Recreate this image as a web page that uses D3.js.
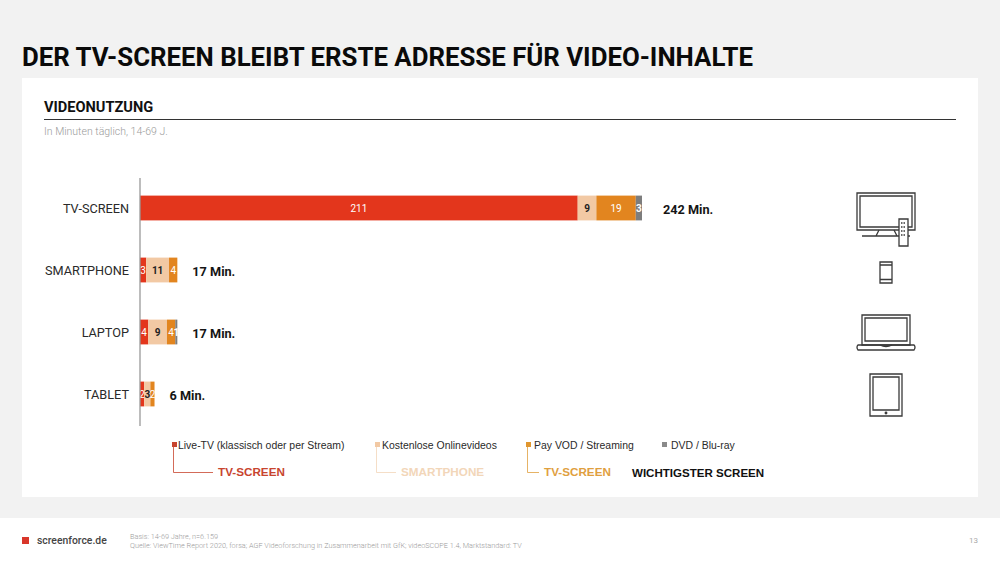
<!DOCTYPE html>
<html lang="de">
<head>
<meta charset="utf-8">
<title>Videonutzung</title>
<script src="https://cdn.jsdelivr.net/npm/d3@7"></script>
<style>
  html, body { margin: 0; padding: 0; background: #f2f2f2; }
  svg { display: block; font-family: Roboto, sans-serif; }
  .icon { fill: none; stroke: #3a3a3a; stroke-width: 1.3; }
  .legend { font-family: "Liberation Sans", Arial, sans-serif; }
</style>
</head>
<body>
<div id="chart"></div>
<script>
const devices = ['TV-SCREEN', 'SMARTPHONE', 'LAPTOP', 'TABLET'];
const seriesNames = ['Live-TV (klassisch oder per Stream)', 'Kostenlose Onlinevideos', 'Pay VOD / Streaming', 'DVD / Blu-ray'];
const seriesColors = ['#e3361c', '#f2c9a4', '#e2851f', '#7d7d7d'];
const labelColors = ['#ffffff', '#222222', '#ffffff', '#ffffff'];
const liveTv = [211, 3, 4, 2];
const freeVideo = [9, 11, 9, 3];
const payVod = [19, 4, 4, 2];
const dvd = [3, 0, 1, 0];
const totals = ['242 Min.', '17 Min.', '17 Min.', '6 Min.'];

const svg = d3.select('#chart').append('svg')
  .attr('width', 1000)
  .attr('height', 563)
  .attr('viewBox', [0, 0, 1000, 563]);

// Hintergrund
svg.append('rect').attr('width', 1000).attr('height', 563).attr('fill', '#f2f2f2');
svg.append('rect').attr('x', 22).attr('y', 78).attr('width', 956).attr('height', 419).attr('fill', '#fff');
svg.append('rect').attr('y', 518).attr('width', 1000).attr('height', 45).attr('fill', '#fff');

// Kopf
svg.append('text').attr('x', 22).attr('y', 66)
  .attr('font-size', 25.8).attr('font-weight', 700).attr('fill', '#0a0a0a')
  .text('DER TV-SCREEN BLEIBT ERSTE ADRESSE FÜR VIDEO-INHALTE');
svg.append('text').attr('x', 44).attr('y', 112)
  .attr('font-size', 14.6).attr('font-weight', 700).attr('fill', '#111')
  .text('VIDEONUTZUNG');
svg.append('line').attr('x1', 44).attr('x2', 956).attr('y1', 119.5).attr('y2', 119.5)
  .attr('stroke', '#333').attr('stroke-width', 1.2);
svg.append('text').attr('x', 44).attr('y', 135)
  .attr('font-size', 10.5).attr('font-weight', 300).attr('fill', '#9a9a9a')
  .text('In Minuten täglich, 14-69 J.');

// Skalen
const x = d3.scaleLinear().domain([0, 242]).range([140, 642]);
const y = d3.scaleBand().domain(devices).range([177, 425]).paddingInner(0.6).paddingOuter(0.3);

const rows = devices.map((device, i) => ({ device, values: [liveTv[i], freeVideo[i], payVod[i], dvd[i]] }));
const stack = d3.stack().keys([0, 1, 2, 3]).value((d, k) => d.values[k]);
const layers = stack(rows);

const layer = svg.selectAll('.layer')
  .data(layers)
  .enter().append('g')
  .attr('class', 'layer');

layer.selectAll('rect')
  .data(d => d.map(p => ({ p, key: d.key })))
  .enter().append('rect')
  .attr('x', d => x(d.p[0]))
  .attr('y', d => y(d.p.data.device))
  .attr('width', d => x(d.p[1]) - x(d.p[0]))
  .attr('height', y.bandwidth())
  .attr('fill', d => seriesColors[d.key]);

layer.selectAll('text')
  .data(d => d.map(p => ({ p, key: d.key })).filter(e => e.p[1] > e.p[0]))
  .enter().append('text')
  .attr('x', d => x((d.p[0] + d.p[1]) / 2))
  .attr('y', d => y(d.p.data.device) + y.bandwidth() / 2 + 3.6)
  .attr('text-anchor', 'middle')
  .attr('font-size', 10)
  .attr('font-weight', d => d.key === 1 || d.key === 3 ? 700 : 400)
  .attr('fill', d => labelColors[d.key])
  .text(d => d.p[1] - d.p[0]);

// Kategorieachse
const axis = svg.append('g')
  .attr('transform', `translate(${x(0) - 0.5},0.5)`)
  .call(d3.axisLeft(y).tickSize(0).tickPadding(10.5));
axis.select('.domain').attr('stroke', '#999').attr('stroke-width', 1.3);
axis.selectAll('text')
  .attr('font-family', 'Roboto, sans-serif')
  .attr('font-size', 12.7)
  .attr('fill', '#2a2a2a');

// Summen
svg.selectAll('.total')
  .data(rows)
  .enter().append('text')
  .attr('class', 'total')
  .attr('x', (d, i) => x(d3.sum(d.values)) + (i === 0 ? 21 : 15))
  .attr('y', d => y(d.device) + y.bandwidth() / 2 + 5.5)
  .attr('font-size', 12.7)
  .attr('font-weight', 700)
  .attr('fill', '#151515')
  .text((d, i) => totals[i]);

// Legende
const legendX = [172, 375, 526, 662];
const legendTextX = [178, 382, 534, 671];
const legendTitles = ['TV-SCREEN', 'SMARTPHONE', 'TV-SCREEN'];
const legendTitleX = [218, 401, 544];
const legendTitleColors = ['#c8452f', '#f2d6b9', '#dfa03f'];
const legendMarks = ['#c8452f', '#f2c9a4', '#e0962f', '#8a8a8a'];

const legend = svg.append('g').attr('class', 'legend');
seriesNames.forEach((name, i) => {
  legend.append('rect').attr('x', legendX[i]).attr('y', 442).attr('width', 5).attr('height', 5)
    .attr('fill', legendMarks[i]);
  legend.append('text').attr('x', legendTextX[i]).attr('y', 449)
    .attr('font-size', 10.45).attr('fill', '#2a2a2a').text(name);
});
legendTitles.forEach((name, i) => {
  legend.append('path')
    .attr('d', `M${legendX[i] + 1.5},447V472.5H${legendTitleX[i] - 5}`)
    .attr('fill', 'none').attr('stroke', legendTitleColors[i]).attr('stroke-width', 0.8);
  legend.append('text').attr('x', legendTitleX[i]).attr('y', 476)
    .attr('font-size', 11.7).attr('font-weight', 700).attr('fill', legendTitleColors[i]).text(name);
});
legend.append('text').attr('x', 632).attr('y', 477)
  .attr('font-size', 11.55).attr('font-weight', 700).attr('fill', '#111').text('WICHTIGSTER SCREEN');

// Icons
const icons = svg.append('g').attr('class', 'icon');
icons.append('path').attr('d', 'M857,193H915V230H857Z');
icons.append('path').attr('d', 'M860,196H912V227H860Z');
icons.append('path').attr('d', 'M879,230L876,236M894,230L897,236M862,236H910');
icons.append('path').attr('d', 'M899,219H908V246H899Z').attr('fill', '#fff');
icons.append('path').attr('d', 'M901,223H906M901,227H906M901,231H906M901,235H906').attr('stroke-dasharray', '1.5 1');
icons.append('path').attr('d', 'M880,262H892V283H880Z');
icons.append('path').attr('d', 'M880,265H892M880,279.5H892');
icons.append('path').attr('d', 'M862,315H910V345H862Z');
icons.append('path').attr('d', 'M865,318H907V341H865Z');
icons.append('path').attr('d', 'M858,345H914Q916,347 914,350H858Q856,347 858,345Z');
icons.append('path').attr('d', 'M880,345Q886,348 892,345');
icons.append('path').attr('d', 'M870,374H902V416H870Z');
icons.append('path').attr('d', 'M873,377H899V410H873Z');
icons.append('circle').attr('cx', 886).attr('cy', 413).attr('r', 0.8).attr('fill', '#222');

// Fuß
svg.append('rect').attr('x', 22).attr('y', 537).attr('width', 7).attr('height', 7).attr('fill', '#d9362a');
svg.append('text').attr('x', 37).attr('y', 544)
  .attr('font-size', 10.4).attr('font-weight', 500).attr('fill', '#444').text('screenforce.de');
svg.append('text').attr('x', 130).attr('y', 539)
  .attr('font-size', 7.3).attr('font-weight', 300).attr('fill', '#9a9a9a').text('Basis: 14-69 Jahre, n=6.159');
svg.append('text').attr('x', 130).attr('y', 548)
  .attr('font-size', 7.3).attr('font-weight', 300).attr('fill', '#9a9a9a')
  .text('Quelle: ViewTime Report 2020, forsa; AGF Videoforschung in Zusammenarbeit mit GfK; videoSCOPE 1.4, Marktstandard: TV');
svg.append('text').attr('x', 978).attr('y', 543).attr('text-anchor', 'end')
  .attr('font-size', 8).attr('fill', '#aaa').text('13');
</script>
</body>
</html>
